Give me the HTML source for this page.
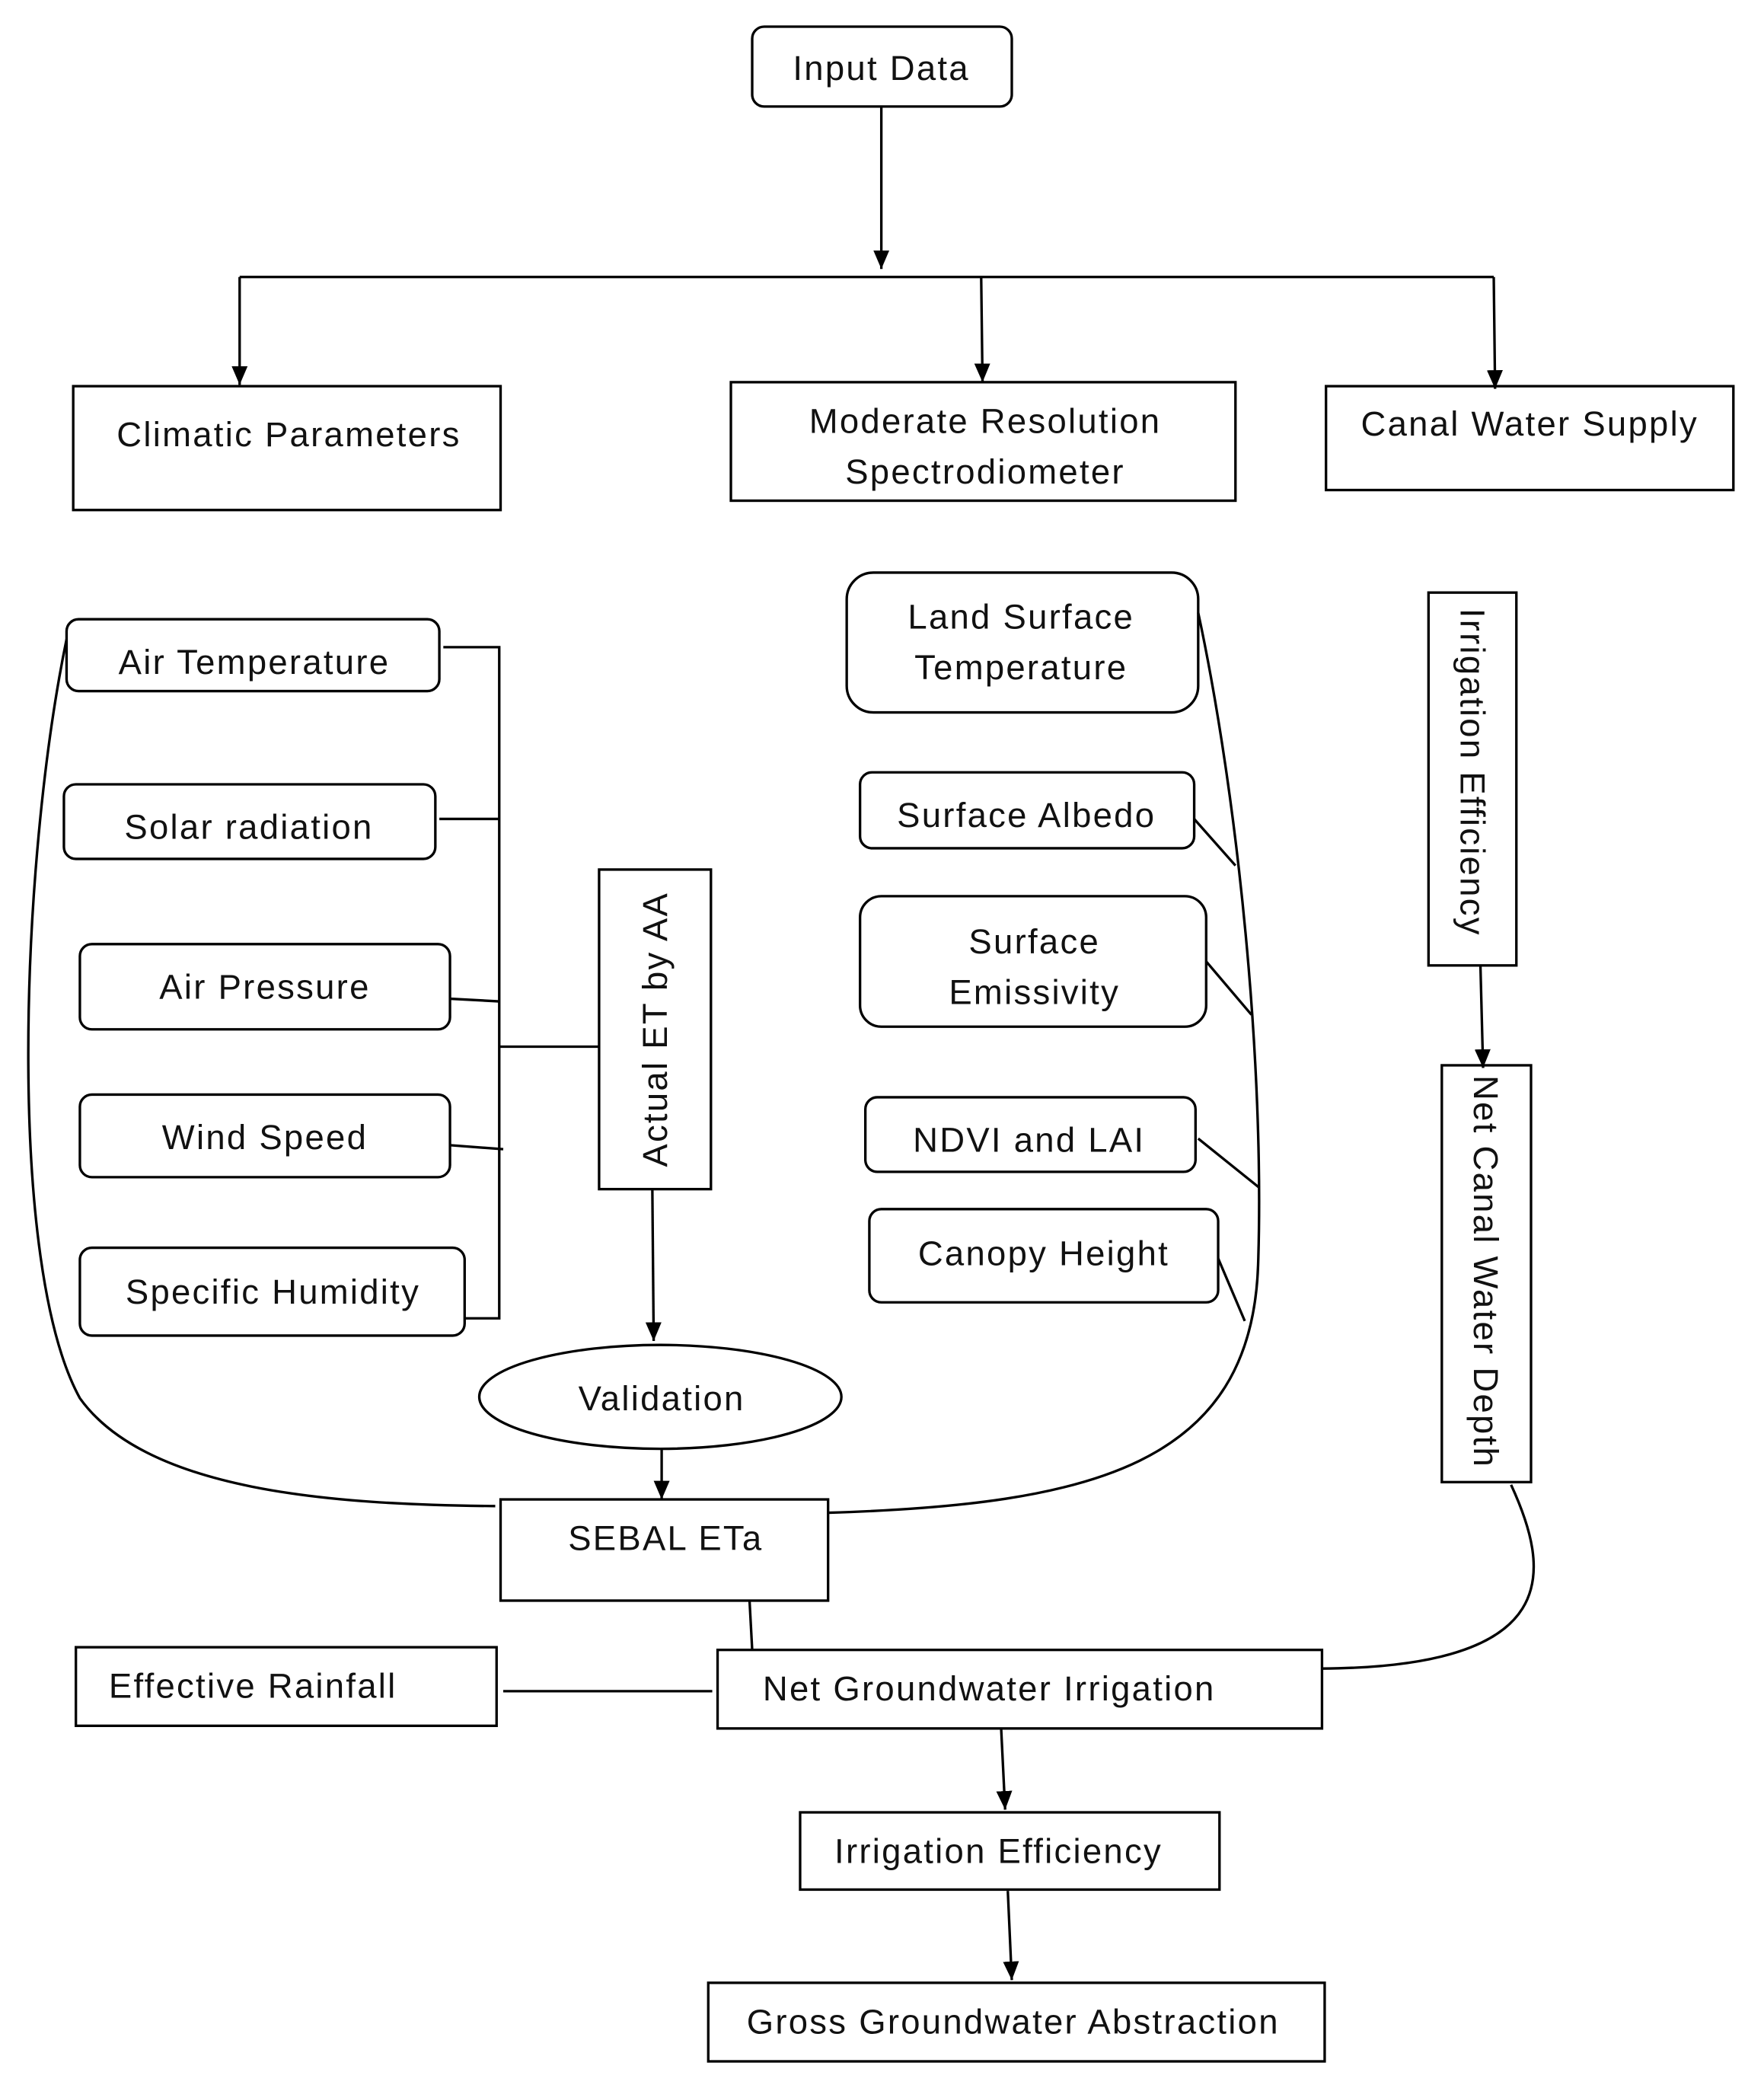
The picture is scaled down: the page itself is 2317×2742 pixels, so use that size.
<!DOCTYPE html>
<html><head><meta charset="utf-8"><style>html,body{margin:0;padding:0;background:#fff}svg{display:block}</style></head>
<body>
<svg width="2317" height="2742" viewBox="0 0 1325 1568" preserveAspectRatio="none" xmlns="http://www.w3.org/2000/svg">
<defs>
<marker id="b" markerWidth="14" markerHeight="14" refX="14" refY="7" orient="auto" markerUnits="userSpaceOnUse"><path d="M0,1 L14,7 L0,13 z" fill="#000"/></marker></defs>
<g fill="none" stroke="#000" stroke-width="1.9">
<rect x="565" y="20" width="195" height="60" rx="9"/>
<line x1="662" y1="80" x2="662" y2="202" marker-end="url(#b)"/>
<line x1="180" y1="208" x2="1122" y2="208"/>
<line x1="180" y1="208" x2="180" y2="289" marker-end="url(#b)"/>
<line x1="737" y1="208" x2="738" y2="287" marker-end="url(#b)"/>
<line x1="1122" y1="208" x2="1123" y2="292" marker-end="url(#b)"/>
<rect x="55" y="290" width="321" height="93"/>
<rect x="549" y="287" width="379" height="89"/>
<rect x="996" y="290" width="306" height="78"/>
<rect x="50" y="465" width="280" height="54" rx="9"/>
<rect x="48" y="589" width="279" height="56" rx="9"/>
<rect x="60" y="709" width="278" height="64" rx="9"/>
<rect x="60" y="822" width="278" height="62" rx="9"/>
<rect x="60" y="937" width="289" height="66" rx="9"/>
<polyline points="333,486 375,486 375,990 349,990"/>
<line x1="330" y1="615" x2="375" y2="615"/>
<line x1="338" y1="750" x2="375" y2="752"/>
<line x1="338" y1="860" x2="378" y2="863"/>
<line x1="375" y1="786" x2="450" y2="786"/>
<rect x="450" y="653" width="84" height="240"/>
<line x1="490" y1="893" x2="491" y2="1007" marker-end="url(#b)"/>
<ellipse cx="496" cy="1049" rx="136" ry="39"/>
<line x1="497" y1="1088" x2="497" y2="1126" marker-end="url(#b)"/>
<rect x="376" y="1126" width="246" height="76"/>
<path d="M50,480 C15,650 5,950 60,1050 C110,1120 250,1130 372,1131"/>
<rect x="636" y="430" width="264" height="105" rx="20"/>
<rect x="646" y="580" width="251" height="57" rx="9"/>
<rect x="646" y="673" width="260" height="98" rx="16"/>
<rect x="650" y="824" width="248" height="56" rx="9"/>
<rect x="653" y="908" width="262" height="70" rx="9"/>
<path d="M900,460 C930,600 950,800 945,950 C940,1100 820,1130 622,1136"/>
<line x1="897" y1="615" x2="928" y2="650"/>
<line x1="906" y1="722" x2="940" y2="762"/>
<line x1="900" y1="855" x2="946" y2="892"/>
<line x1="915" y1="945" x2="935" y2="992"/>
<rect x="1073" y="445" width="66" height="280"/>
<line x1="1112" y1="725" x2="1114" y2="802" marker-end="url(#b)"/>
<rect x="1083" y="800" width="67" height="313"/>
<path d="M1135,1115 C1165,1180 1175,1252 993,1253"/>
<rect x="57" y="1237" width="316" height="59"/>
<line x1="378" y1="1270" x2="535" y2="1270"/>
<rect x="539" y="1239" width="454" height="59"/>
<line x1="563" y1="1202" x2="565" y2="1239"/>
<line x1="752" y1="1298" x2="755" y2="1359" marker-end="url(#b)"/>
<rect x="601" y="1361" width="315" height="58"/>
<line x1="757" y1="1420" x2="760" y2="1487" marker-end="url(#b)"/>
<rect x="532" y="1489" width="463" height="59"/>
</g>
<g font-family="Liberation Sans, sans-serif" font-size="26" letter-spacing="1.3" fill="#111" text-anchor="middle">
<text x="662" y="60">Input Data</text>
<text x="217" y="335">Climatic Parameters</text>
<text x="740" y="325">Moderate Resolution</text>
<text x="740" y="363">Spectrodiometer</text>
<text x="1149" y="327">Canal Water Supply</text>
<text x="191" y="506">Air Temperature</text>
<text x="187" y="630">Solar radiation</text>
<text x="199" y="750">Air Pressure</text>
<text x="199" y="863">Wind Speed</text>
<text x="205" y="979">Specific Humidity</text>
<text transform="translate(492,773) rotate(-90)" y="9">Actual ET by AA</text>
<text x="497" y="1059">Validation</text>
<text x="500" y="1164">SEBAL ETa</text>
<text x="767" y="472">Land Surface</text>
<text x="767" y="510">Temperature</text>
<text x="771" y="621">Surface Albedo</text>
<text x="777" y="716">Surface</text>
<text x="777" y="754">Emissivity</text>
<text x="773" y="865">NDVI and LAI</text>
<text x="784" y="950">Canopy Height</text>
<text transform="translate(1106,580) rotate(90)" y="9">Irrigation Efficiency</text>
<text transform="translate(1116,955) rotate(90)" y="9">Net Canal Water Depth</text>
<text x="190" y="1275">Effective Rainfall</text>
<text x="743" y="1277">Net Groundwater Irrigation</text>
<text x="750" y="1399">Irrigation Efficiency</text>
<text x="761" y="1527">Gross Groundwater Abstraction</text>
</g>
</svg>
</body></html>
